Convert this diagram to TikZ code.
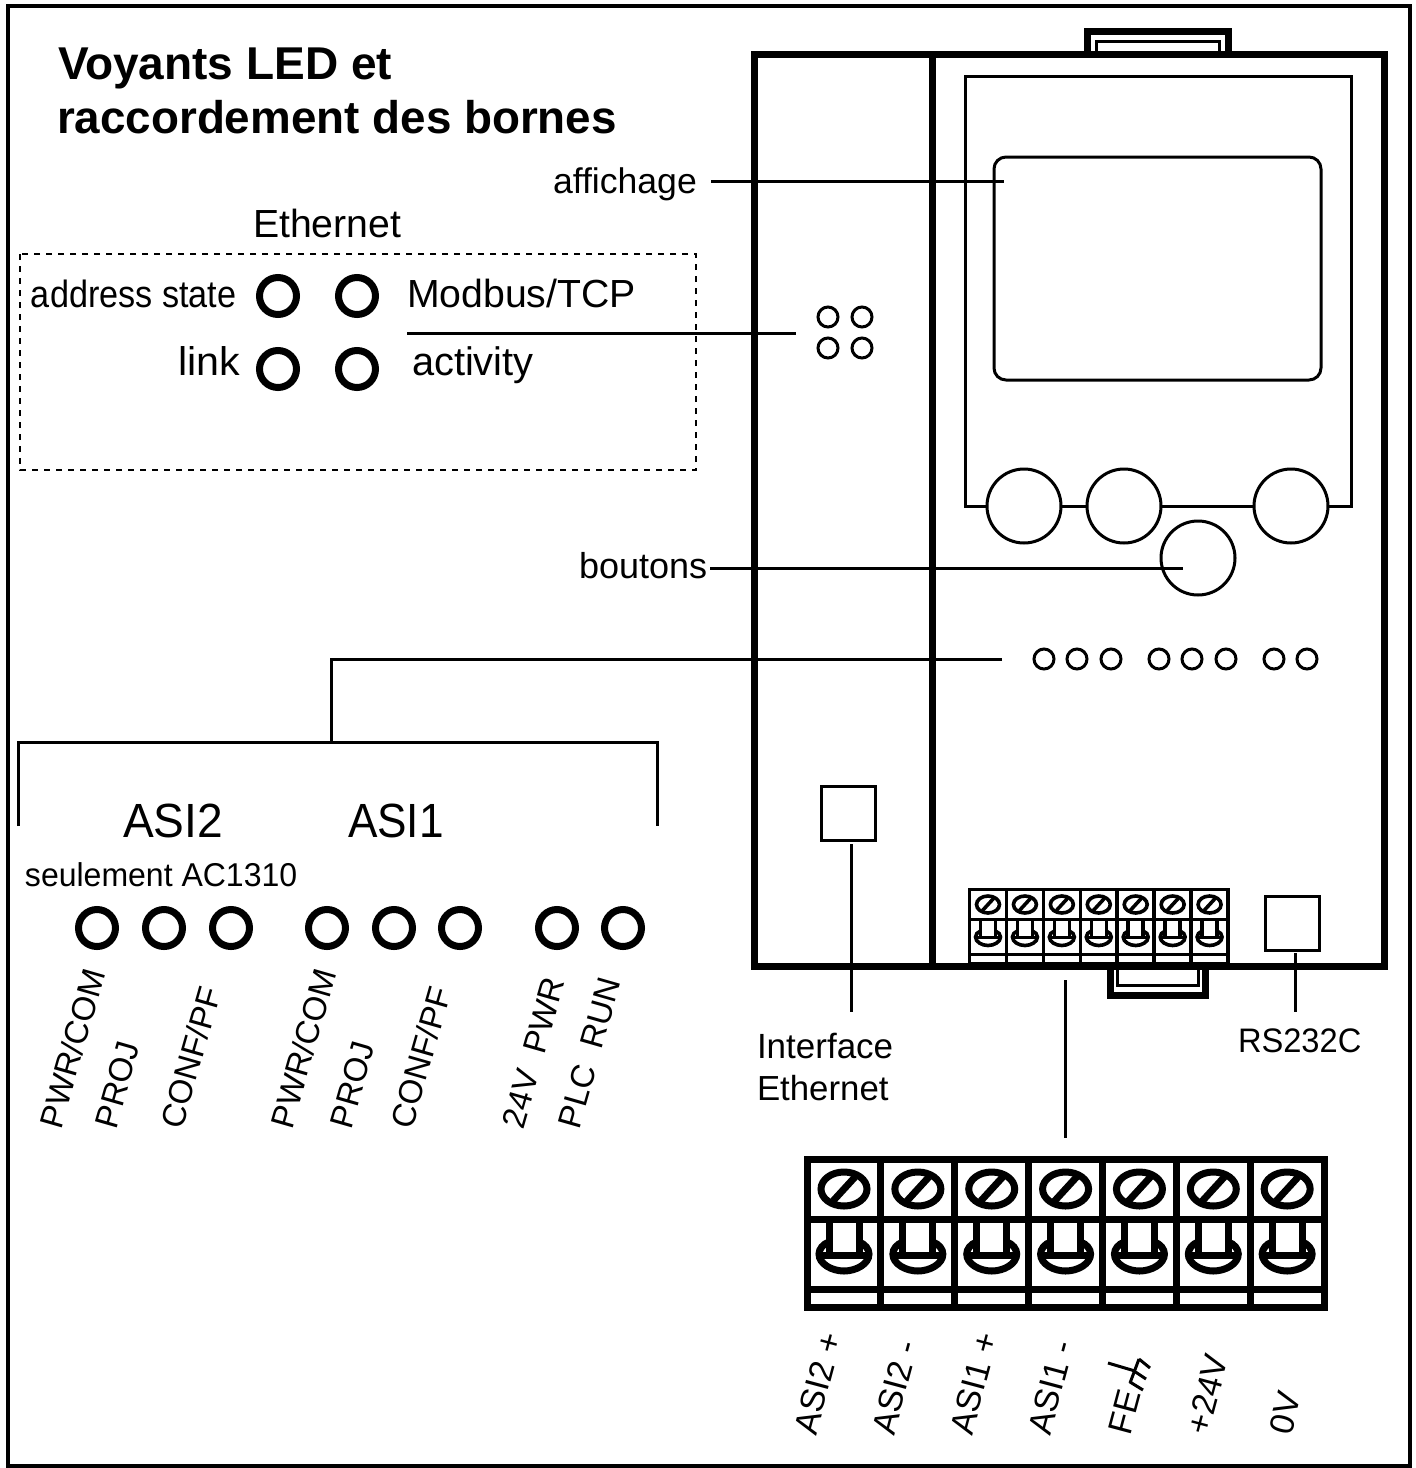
\documentclass[tikz,border=0pt]{standalone}
\usepackage{fontspec}
\setmainfont{Liberation Sans}
\newcommand{\fs}[1]{\fontsize{#1}{#1}\selectfont}
\newcommand{\termblock}[4]{% x, y, scale, line width
  \begin{scope}[shift={(#1,#2)},scale=#3,line width=#4]
    \draw (0,0) rectangle (517,148);
    \draw (0,60) -- (517,60);
    \draw (0,130) -- (517,130);
    \foreach \c in {1,...,6} {\draw (\c*73.86,0) -- (\c*73.86,148);}
    \foreach \c in {0,...,6} {
      \begin{scope}[shift={(\c*73.86+37,0)}]
        \draw (0,30) ellipse [x radius=23,y radius=17];
        \draw (-11,42) -- (11,18);
        \draw (-15,60) -- (-15,96) (15,60) -- (15,96);
        \draw (-24,96) -- (24,96);
        \draw (-15,83) .. controls (-21,85) and (-25,90) .. (-25,95)
              .. controls (-25,105) and (-12,112) .. (0,112)
              .. controls (12,112) and (25,105) .. (25,95)
              .. controls (25,90) and (21,85) .. (15,83);
      \end{scope}
    }
  \end{scope}
}
\tikzset{
  lbl/.style={inner sep=0pt,outer sep=0pt,anchor=base west,text=black},
  heavy/.style={line width=3.5pt},
  thin leader/.style={line width=1.5pt},
  ledbig/.style={circle,draw,line width=3.5pt,minimum size=18.5pt,inner sep=0pt,fill=white},
  ledsmall/.style={circle,draw,line width=1.5pt,minimum size=10pt,inner sep=0pt,fill=white},
  btn/.style={circle,draw,line width=1.5pt,minimum size=37pt,inner sep=0pt,fill=white},
  sqbox/.style={rectangle,draw,line width=1.5pt,inner sep=0pt,minimum width=27pt,minimum height=27pt,fill=white},
}
\begin{document}
\begin{tikzpicture}[x=0.5pt,y=-0.5pt]
\useasboundingbox (0,0) rectangle (1415,1468);
% frame
\draw[line width=2pt] (8,6) rectangle (1410,1466);
% device
\draw[heavy] (1087,54) -- (1087,31) -- (1228,31) -- (1228,54);
\draw[line width=1.5pt] (1096,54) -- (1096,41) -- (1219,41) -- (1219,54);
\draw[heavy] (1110,966) -- (1110,995) -- (1205,995) -- (1205,966);
\draw[line width=1.5pt] (1117,966) -- (1117,985) -- (1198,985) -- (1198,966);
\draw[heavy] (754,54) rectangle (1384,966);
\draw[heavy] (932,54) -- (932,966);
\draw[line width=1.5pt] (965,506) -- (965,76) -- (1351,76) -- (1351,506) -- cycle;
\draw[line width=1.5pt,rounded corners=6pt] (994,157) rectangle (1321,380);
\node[btn] (b1) at (1024,506) {};
\node[btn] (b2) at (1124,506) {};
\node[btn] (b3) at (1291,506) {};
\node[btn] (b4) at (1198,558) {};
\foreach \n/\x/\y in {a/828/317,b/862/317,c/828/348,d/862/348,
  e/1044/659,f/1077/659,g/1111/659,h/1159/659,i/1192/659,j/1226/659,k/1274/659,l/1307/659}
  \node[ledsmall] (s\n) at (\x,\y) {};
\node[sqbox] (eth) at (848,813) {};
\node[sqbox] (rs) at (1292,923) {};
\fill[white] (969,890) rectangle (1228,962);
\termblock{969.5}{889.5}{0.5}{1.8pt}
\termblock{807}{1159}{1}{3.5pt}
% dashed box
\draw[dashed,line width=1pt] (20,254) rectangle (696,470);
% big LEDs
\foreach \n/\x/\y in {A/278/296,B/357/296,C/278/369,D/357/369,
  E/97/928,F/164/928,G/231/928,H/327/928,I/394/928,J/460/928,K/557/928,L/623/928}
  \node[ledbig] (L\n) at (\x,\y) {};
% leaders
\coordinate (p1) at (711,181); \coordinate (p2) at (1004,181);
\coordinate (p3) at (407,333); \coordinate (p4) at (796,333);
\coordinate (p5) at (710,568); \coordinate (p6) at (1183,568);
\coordinate (p7) at (1002,659); \coordinate (p8) at (331,742);
\coordinate (p9) at (18,826); \coordinate (p10) at (657,826);
\coordinate (p11) at (851,844); \coordinate (p12) at (851,1012);
\coordinate (p13) at (1065,980); \coordinate (p14) at (1065,1138);
\coordinate (p15) at (1295,953); \coordinate (p16) at (1295,1012);
\draw[thin leader] (p1) -- (p2);
\draw[thin leader] (p3) -- (p4);
\draw[thin leader] (p5) -- (p6);
\draw[thin leader] (p7) -| (p8);
\draw[thin leader] (p9) |- (p8) -| (p10);
\draw[thin leader] (p11) -- (p12);
\draw[thin leader] (p13) -- (p14);
\draw[thin leader] (p15) -- (p16);
% titles
\node[lbl,font=\bfseries\fs{23}] (t1) at (58,79) {Voyants LED et};
\node[lbl,font=\bfseries\fs{22.9}] (t2) at (57,133) {raccordement des bornes};
\node[lbl,font=\fs{19.6}] (eh) at (253,237) {Ethernet};
\node[lbl,font=\fs{17.8}] (af) at (553,193) {affichage};
\node[lbl,font=\fs{19},xscale=.9,transform shape] (ad) at (31,307) {address state};
\node[lbl,font=\fs{19.6}] (mb) at (407,307) {Modbus/TCP};
\node[lbl,font=\fs{20},xscale=1.03,transform shape] (li) at (178,375) {link};
\node[lbl,font=\fs{19.9}] (ac) at (412,375) {activity};
\node[lbl,font=\fs{18}] (bo) at (579,578) {boutons};
\node[lbl,font=\fs{24},xscale=.96,transform shape] (a2) at (123,837) {ASI2};
\node[lbl,font=\fs{24},xscale=.92,transform shape] (a1) at (348,837) {ASI1};
\node[lbl,font=\fs{16.5},xscale=.97,transform shape] (se) at (25,886) {seulement AC1310};
\node[lbl,font=\fs{17.5}] (if1) at (757,1058) {Interface};
\node[lbl,font=\fs{17.4}] (if2) at (757,1100) {Ethernet};
\node[lbl,font=\fs{17},xscale=.96,transform shape] (rc) at (1238,1052) {RS232C};
% rotated LED labels
\foreach \n/\x/\t in {ra/61/PWR\slash COM,rb/116/PROJ,rc/182/CONF\slash PF,rd/292/PWR\slash COM,re/351/PROJ,rf/412/CONF\slash PF,rg/523/24V\ \ PWR,rh/579/PLC\ \ RUN}
  \node[lbl,font=\fs{16.5},rotate=74] (\n) at (\x,1130) {\t};
% terminal labels
\foreach \n/\x/\t in {ta/816/ASI2 +,tb/894/ASI2 -,tc/972/ASI1 +,td/1050/ASI1 -,te/1130/FE,tf/1208/+24V,tg/1291/0V}
  \node[lbl,font=\fs{17},rotate=75] (\n) at (\x,1436) {\t};
% earth symbol
\draw[line width=1.5pt] (1108,1363) -- (1135,1371);
\draw[line width=1.5pt] (1139,1359) -- (1130,1383);
\draw[line width=1.5pt] (1139,1359) -- (1150,1368) (1134,1371) -- (1146,1379) (1130,1382) -- (1143,1390);
\end{tikzpicture}
\end{document}
